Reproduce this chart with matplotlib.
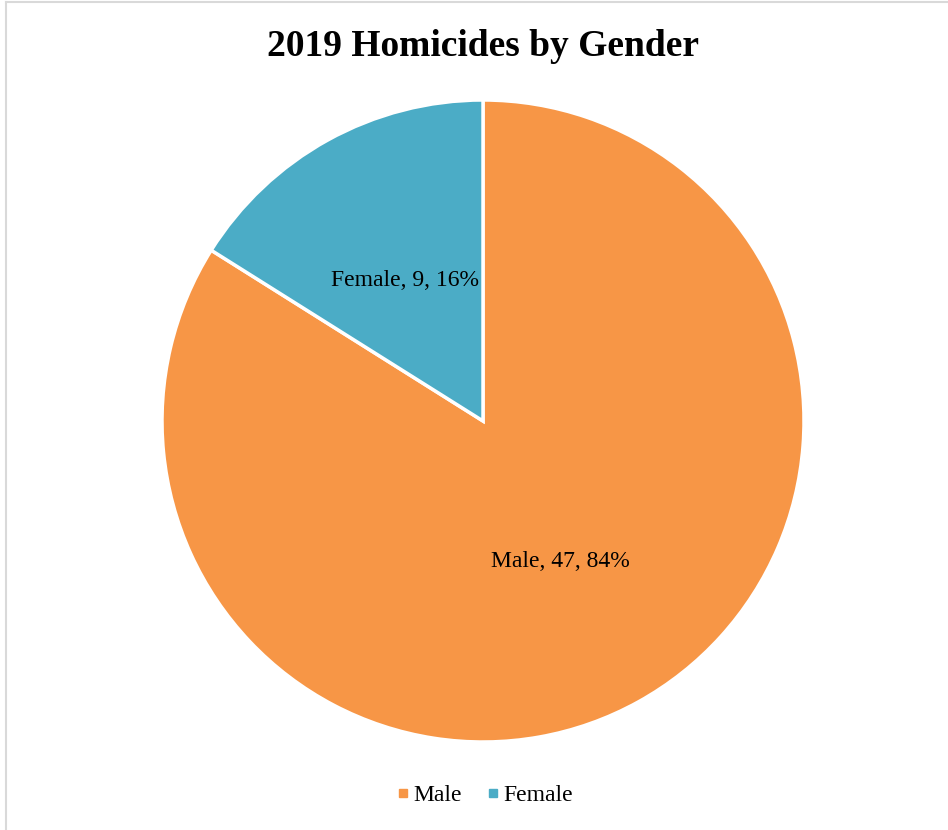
import numpy as np
import matplotlib.pyplot as plt
from matplotlib.lines import Line2D

labels = ['Male', 'Female']
counts = [47, 9]
colors = ['#F79646', '#4BACC6']

plt.rcParams['font.family'] = ['Liberation Serif', 'DejaVu Serif']

W, H = 948, 830
fig = plt.figure(figsize=(W / 100, H / 100), dpi=100)

# chart area border (top and left edges visible)
fig.add_artist(Line2D([6 / W, 1], [1 - 2 / H, 1 - 2 / H], color='#D9D9D9', lw=1.5))
fig.add_artist(Line2D([6 / W, 6 / W], [0, 1 - 2 / H], color='#D9D9D9', lw=1.5))

cx, cy, r = 483, 421, 321
ax = fig.add_axes([(cx - r) / W, (H - cy - r) / H, 2 * r / W, 2 * r / H])
wedges, _ = ax.pie(counts, colors=colors, startangle=90, counterclock=False,
                   radius=1, wedgeprops=dict(edgecolor='white', linewidth=2.5))
ax.set_xlim(-1, 1)
ax.set_ylim(-1, 1)
ax.set_aspect('equal')
ax.axis('off')

total = sum(counts)
for w, name, n in zip(wedges, labels, counts):
    mid = np.deg2rad((w.theta1 + w.theta2) / 2)
    ax.text(0.5 * np.cos(mid), 0.5 * np.sin(mid),
            f'{name}, {n}, {round(100 * n / total)}%',
            ha='center', va='center', fontsize=17, color='black')

fig.text(cx / W, 1 - 46 / H, '2019 Homicides by Gender', ha='center', va='center',
         fontsize=27, fontweight='bold')

handles = [Line2D([], [], marker='s', linestyle='none', markersize=6,
                  markerfacecolor=c, markeredgecolor=c) for c in colors]
fig.legend(handles, labels, loc='center', bbox_to_anchor=(cx / W, 1 - 795 / H),
           ncol=2, frameon=False, fontsize=17, handletextpad=0.05,
           columnspacing=0.9, handlelength=0.8)

fig.savefig('out.png', dpi=100)
